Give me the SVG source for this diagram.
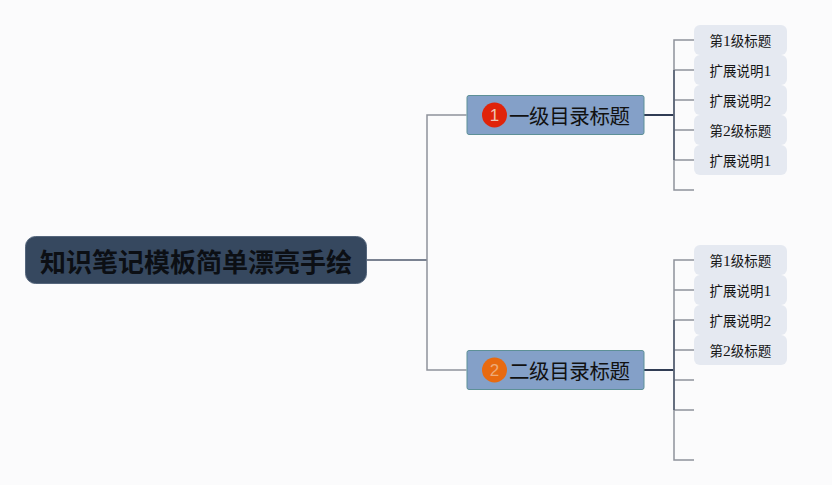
<svg xmlns="http://www.w3.org/2000/svg" width="832" height="485" viewBox="0 0 832 485">
<style>
.root{fill:#36485f;stroke:#55667c;stroke-width:1}
.sub{fill:#84a0c8;stroke:#5d9097;stroke-width:1}
.leaf{fill:#e5e9f1}
.rt{font-family:"Noto Sans CJK SC","Noto Sans",sans-serif;font-size:26px;font-weight:700;fill:#0c0f14}
.st{font-family:"Noto Sans CJK SC","Noto Sans",sans-serif;font-size:20.5px;fill:#111}
.lt{font-family:"Liberation Serif","Noto Sans CJK SC",serif;font-size:15.5px;fill:#151515}
.lc{font-family:"Noto Sans CJK SC","Noto Sans",sans-serif;font-size:13.5px;fill:#151515}
.num{font-family:"Liberation Sans",sans-serif;font-size:17px;text-anchor:middle}
.c{fill:none;stroke:#8f929b;stroke-width:1.5}
.d{fill:none;stroke:#4f5a6e;stroke-width:1.5}
.e{fill:none;stroke:#303c54;stroke-width:2}
</style>
<rect width="832" height="485" fill="#fbfbfc"/>
<g id="connectors">
<path class="d" d="M367 260H427"/>
<path class="c" d="M466.500 115H427V370H466.500"/>
<path class="e" d="M644 115H674"/>
<path class="e" d="M644 370H674"/>
<path class="c" d="M694 40H674V190H694"/>
<path class="c" d="M674 70H694M674 100H694M674 130H694M674 160H694"/>
<path class="d" d="M674 70V160"/>
<path class="c" d="M694 260H674V460H694"/>
<path class="c" d="M674 290H694M674 320H694M674 350H694M674 380H694M674 410H694"/>
<path class="d" d="M674 320V410"/>
</g>
<g id="root"><rect class="root" x="25.500" y="236.500" width="341" height="47" rx="10"/><text class="rt" x="40" y="271.500" textLength="312">知识笔记模板简单漂亮手绘</text></g>
<g id="topic1"><rect class="sub" x="467" y="95.500" width="177" height="39" rx="2"/><circle cx="494.500" cy="115" r="12.500" fill="#e0240a"/><text class="num" x="494.500" y="121" fill="#efc4b4">1</text><text class="st" x="509" y="124" textLength="121">一级目录标题</text></g>
<g id="topic2"><rect class="sub" x="467" y="350.500" width="177" height="39" rx="2"/><circle cx="494.500" cy="370" r="12.500" fill="#e86a10"/><text class="num" x="494.500" y="376" fill="#eeaa78">2</text><text class="st" x="509" y="379" textLength="121">二级目录标题</text></g>
<g id="leaf-1-1"><rect class="leaf" x="694" y="25" width="93" height="30" rx="6"/><text class="lc" x="709.500" y="46">第<tspan class="lt">1</tspan>级标题</text></g>
<g id="leaf-1-2"><rect class="leaf" x="694" y="55" width="93" height="30" rx="6"/><text class="lc" x="709.500" y="76">扩展说明<tspan class="lt">1</tspan></text></g>
<g id="leaf-1-3"><rect class="leaf" x="694" y="85" width="93" height="30" rx="6"/><text class="lc" x="709.500" y="106">扩展说明<tspan class="lt">2</tspan></text></g>
<g id="leaf-1-4"><rect class="leaf" x="694" y="115" width="93" height="30" rx="6"/><text class="lc" x="709.500" y="136">第<tspan class="lt">2</tspan>级标题</text></g>
<g id="leaf-1-5"><rect class="leaf" x="694" y="145" width="93" height="30" rx="6"/><text class="lc" x="709.500" y="166">扩展说明<tspan class="lt">1</tspan></text></g>
<g id="leaf-2-1"><rect class="leaf" x="694" y="245" width="93" height="30" rx="6"/><text class="lc" x="709.500" y="266">第<tspan class="lt">1</tspan>级标题</text></g>
<g id="leaf-2-2"><rect class="leaf" x="694" y="275" width="93" height="30" rx="6"/><text class="lc" x="709.500" y="296">扩展说明<tspan class="lt">1</tspan></text></g>
<g id="leaf-2-3"><rect class="leaf" x="694" y="305" width="93" height="30" rx="6"/><text class="lc" x="709.500" y="326">扩展说明<tspan class="lt">2</tspan></text></g>
<g id="leaf-2-4"><rect class="leaf" x="694" y="335" width="93" height="30" rx="6"/><text class="lc" x="709.500" y="356">第<tspan class="lt">2</tspan>级标题</text></g>
</svg>
